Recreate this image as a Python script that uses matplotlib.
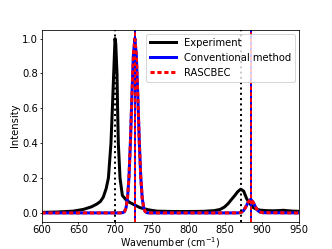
import matplotlib
matplotlib.use('Agg')
import matplotlib.pyplot as plt

exp_x = [600, 620, 643, 657, 668, 675, 680, 684, 688, 691, 694.5, 696.4, 698.2, 700, 701,
         702.7, 703.5, 704.5, 706.8, 710, 715, 720, 727, 734, 745, 757, 780, 800, 820,
         835, 843, 849, 854, 858, 863, 867, 871, 875, 879, 884, 888, 892, 897, 905, 915,
         922, 929, 936, 943, 950]
exp_y = [0.003, 0.005, 0.01, 0.02, 0.035, 0.05, 0.065, 0.09, 0.14, 0.2, 0.4, 0.6, 0.8,
         1.0, 0.97, 0.8, 0.6, 0.4, 0.2, 0.1, 0.075, 0.06, 0.045, 0.03, 0.018, 0.01, 0.008,
         0.008, 0.009, 0.013, 0.02, 0.034, 0.054, 0.075, 0.1, 0.122, 0.136, 0.125, 0.082,
         0.05, 0.031, 0.022, 0.016, 0.013, 0.012, 0.013, 0.015, 0.012, 0.01, 0.009]

# Calculated spectra (conventional method and RASCBEC)
calc_x = [600, 707, 711, 713, 715, 717, 719, 721, 723, 725, 727, 729, 731, 733, 735, 737,
          739, 741, 743, 745, 749, 800, 868, 872, 875, 878, 881, 884.5, 888, 891, 894,
          897, 901, 950]
conv_y = [0.0, 0.0, 0.002, 0.008, 0.029, 0.085, 0.206, 0.411, 0.674, 0.906, 1.0, 0.906,
          0.674, 0.411, 0.206, 0.085, 0.029, 0.008, 0.002, 0.0, 0.0, 0.0, 0.0, 0.004,
          0.014, 0.035, 0.06, 0.078, 0.06, 0.035, 0.014, 0.005, 0.001, 0.0]
rasc_y = [0.0, 0.0, 0.002, 0.008, 0.029, 0.085, 0.206, 0.411, 0.674, 0.906, 1.0, 0.906,
          0.674, 0.411, 0.206, 0.085, 0.029, 0.008, 0.002, 0.0, 0.0, 0.0, 0.0, 0.004,
          0.014, 0.035, 0.06, 0.078, 0.06, 0.035, 0.014, 0.005, 0.001, 0.0]

# Peak positions
exp_peaks = [700, 872]
calc_peaks = [727, 885]

plt.rcParams['xtick.major.size'] = 2
plt.rcParams['ytick.major.size'] = 2
plt.rcParams['xtick.major.pad'] = 1.5
plt.rcParams['ytick.major.pad'] = 1.5

fig, ax = plt.subplots(figsize=(332 / 72, 249 / 72), dpi=72)

ax.plot(exp_x, exp_y, color='black', lw=3, label='Experiment')
ax.plot(calc_x, conv_y, color='blue', lw=3, label='Conventional method')
ax.plot(calc_x, rasc_y, color='red', lw=3, dashes=(1.4, 0.9), label='RASCBEC')

for p in exp_peaks:
    ax.axvline(p, color='black', ls=':', lw=2)
for p in calc_peaks:
    ax.axvline(p, color='blue', lw=2)
    ax.axvline(p, color='red', lw=2, dashes=(1.8, 1.2))

ax.set_xlim(600, 950)
ax.set_xlabel('Wavenumber (cm$^{-1}$)', fontsize=9.5, labelpad=0)
ax.set_ylabel('Intensity', labelpad=2)
ax.legend(loc='upper right', handlelength=2.6, borderaxespad=0.4)

plt.savefig('out.png')
